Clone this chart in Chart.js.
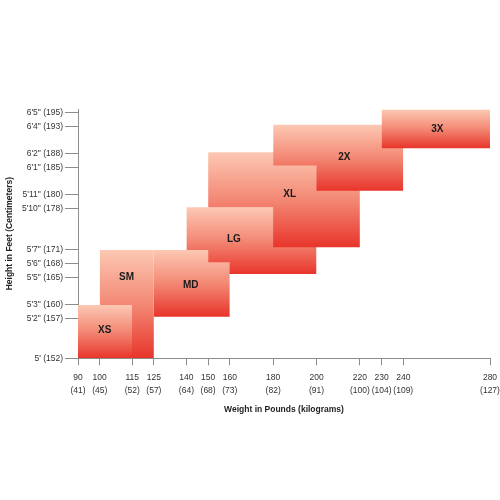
<!DOCTYPE html>
<html>
<head>
<meta charset="utf-8">
<script src="https://cdn.jsdelivr.net/npm/chart.js@4/dist/chart.umd.min.js"></script>
<style>
  html, body { margin: 0; padding: 0; background: #fff; }
</style>
</head>
<body>
<canvas id="size-chart" width="500" height="500"></canvas>
<script>
// --- Weight axis (pounds) and the kilogram value printed under each tick ---
const weightTicks = [90, 100, 115, 125, 140, 150, 160, 180, 200, 220, 230, 240, 280];
const weightKg = [41, 45, 52, 57, 64, 68, 73, 82, 91, 100, 104, 109, 127];

// --- Height axis in inches; the 5' tick sits a bit lower than 60 in the picture ---
const heightMin = 59.12;
const heightMax = 77.25;
const heightTicks = [heightMin, 62, 63, 65, 66, 67, 70, 71, 73, 74, 76, 77];
const heightLabels = ["5' (152)", "5'2\" (157)", "5'3\" (160)", "5'5\" (165)", "5'6\" (168)", "5'7\" (171)",
  "5'10\" (178)", "5'11\" (180)", "6'1\" (185)", "6'2\" (188)", "6'4\" (193)", "6'5\" (195)"];

// --- Sizes, back to front: weight break points, then top / bottom height of each step ---
const sizeNames = ['SM', 'XS', 'LG', 'MD', 'XL', '2X', '3X'];
const sizeWeights = [[100, 125], [90, 115], [140, 150, 200], [125, 150, 160], [150, 180, 220], [180, 200, 240], [230, 280]];
const sizeTops = [[67], [63], [70.1, 70.1], [67, 66.1], [74.1, 74.1], [76.1, 76.1], [77.2]];
const sizeBottoms = [[heightMin], [heightMin], [67, 65.25], [62.15, 62.15], [70.1, 67.2], [73.15, 71.3], [74.4]];

// where each size name sits (pounds, inches)
const labelWeights = [112.4, 102.3, 161.9, 142, 187.6, 212.8, 255.7];
const labelHeights = [65.05, 61.13, 67.8, 64.45, 71.04, 73.77, 75.8];

const tickFont = '"Liberation Sans", Arial, sans-serif';

function stepPoints(xs, ys) {
  const pts = [];
  for (let i = 0; i < ys.length; i++) {
    pts.push({ x: xs[i], y: ys[i] }, { x: xs[i + 1], y: ys[i] });
  }
  return pts;
}

function shapeGradient(context) {
  const chart = context.chart;
  if (!chart.chartArea) return '#f27f6e';
  const i = context.dataset.sizeIndex;
  const y = chart.scales.y;
  const top = y.getPixelForValue(Math.max(...sizeTops[i]));
  const bottom = y.getPixelForValue(Math.min(...sizeBottoms[i]));
  const g = chart.ctx.createLinearGradient(0, top, 0, bottom);
  g.addColorStop(0, '#fcc8b3');
  g.addColorStop(0.5, '#f38874');
  g.addColorStop(1, '#e8352b');
  return g;
}

const datasets = [];
sizeNames.forEach((name, i) => {
  const order = sizeNames.length - i;
  datasets.push({
    label: name + ' bottom',
    data: stepPoints(sizeWeights[i], sizeBottoms[i]),
    borderWidth: 0,
    pointRadius: 0,
    fill: false,
    order: order
  });
  datasets.push({
    label: name,
    sizeIndex: i,
    data: stepPoints(sizeWeights[i], sizeTops[i]),
    borderWidth: 0,
    borderColor: 'rgba(0,0,0,0)',
    pointRadius: 0,
    fill: '-1',
    backgroundColor: shapeGradient,
    order: order
  });
});

const sizeLabels = {
  id: 'sizeLabels',
  afterDatasetsDraw(chart) {
    const { ctx, scales: { x, y } } = chart;
    ctx.save();
    ctx.font = 'bold 10px "Liberation Sans", Arial, sans-serif';
    ctx.fillStyle = '#1a1a1a';
    ctx.textAlign = 'center';
    ctx.textBaseline = 'middle';
    sizeNames.forEach((name, i) => {
      ctx.fillText(name, x.getPixelForValue(labelWeights[i]), y.getPixelForValue(labelHeights[i]));
    });
    ctx.restore();
  }
};

new Chart(document.getElementById('size-chart'), {
  type: 'line',
  data: { datasets: datasets },
  plugins: [sizeLabels],
  options: {
    responsive: false,
    animation: false,
    layout: { autoPadding: false, padding: { top: 109, left: 0, right: 10, bottom: 85 } },
    plugins: { legend: { display: false }, tooltip: { enabled: false } },
    elements: { line: { tension: 0 } },
    scales: {
      x: {
        type: 'linear',
        min: 90,
        max: 280,
        afterBuildTicks: s => { s.ticks = weightTicks.map(v => ({ value: v })); },
        afterFit: s => { s.height = 56.7; s.paddingLeft = 0; s.paddingRight = 0; },
        ticks: {
          autoSkip: false,
          maxRotation: 0,
          padding: 6,
          color: '#333',
          font: { family: tickFont, size: 8.5, lineHeight: '13px' },
          callback: (v, i) => [String(weightTicks[i]), '(' + weightKg[i] + ')']
        },
        grid: { drawOnChartArea: false, tickLength: 7, color: '#8c8c8c' },
        border: { color: '#8c8c8c' },
        title: {
          display: true,
          text: 'Weight in Pounds (kilograms)',
          color: '#222',
          padding: 0,
          font: { family: tickFont, size: 8.5, weight: 'bold', lineHeight: 1.2 }
        }
      },
      y: {
        type: 'linear',
        min: heightMin,
        max: heightMax,
        afterBuildTicks: s => { s.ticks = heightTicks.map(v => ({ value: v })); },
        afterFit: s => { s.width = 78; s.paddingTop = 0; s.paddingBottom = 0; },
        ticks: {
          autoSkip: false,
          padding: 2,
          color: '#333',
          font: { family: tickFont, size: 8.5 },
          callback: (v, i) => heightLabels[i]
        },
        grid: { drawOnChartArea: false, tickLength: 13, color: '#8c8c8c' },
        border: { color: '#8c8c8c' },
        title: {
          display: true,
          text: 'Height in Feet (Centimeters)',
          color: '#222',
          padding: { top: 5, bottom: 0 },
          font: { family: tickFont, size: 8.5, weight: 'bold', lineHeight: 1.2 }
        }
      }
    }
  }
});
</script>
</body>
</html>
